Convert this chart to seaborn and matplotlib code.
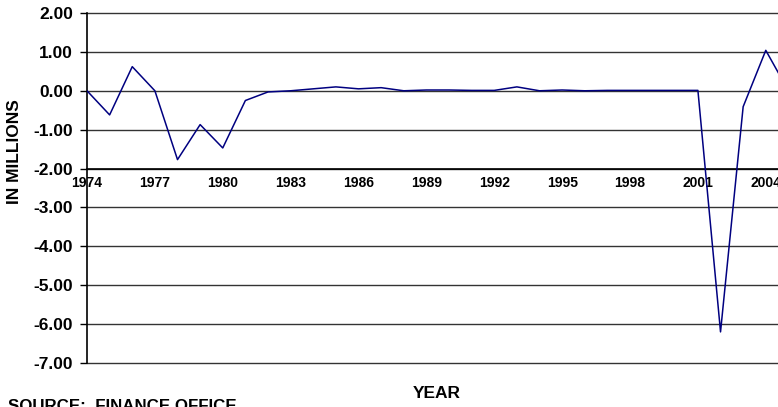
import numpy as np
import matplotlib
matplotlib.use('Agg')
import matplotlib.pyplot as plt
import pandas as pd
import seaborn as sns

# data (in millions)
years = list(range(1974, 2006))
values = [0.00, -0.62, 0.62, 0.00, -1.77, -0.87, -1.47, -0.25, -0.03, 0.00,
          0.05, 0.10, 0.05, 0.08, 0.00, 0.02, 0.02, 0.01, 0.01, 0.10,
          0.00, 0.02, 0.00, 0.01, 0.01, 0.01, 0.01, 0.01, -6.20, -0.41,
          1.04, 0.00]
label_years = [1974, 1977, 1980, 1983, 1986, 1989, 1992, 1995, 1998, 2001, 2004]
y_ticks = [2, 1, 0, -1, -2, -3, -4, -5, -6, -7]

df = pd.DataFrame({'year': years, 'value': values})

sns.set_style("white")
plt.rcParams['font.family'] = ['Liberation Sans', 'DejaVu Sans']
plt.rcParams['font.weight'] = 'bold'
plt.rcParams['text.color'] = 'black'
plt.rcParams['xtick.color'] = 'black'
plt.rcParams['ytick.color'] = 'black'

fig = plt.figure(figsize=(7.78, 4.07), dpi=100)
ax = fig.add_axes([87 / 778, 1 - 363 / 407, 1 - 87 / 778, 350 / 407])

# horizontal grid lines
for t in y_ticks:
    ax.axhline(t, color='#333333', lw=1, zorder=1, clip_on=False)

sns.lineplot(data=df, x='year', y='value', ax=ax, color='#000080', lw=1.1, zorder=3)

ax.set_xlim(1974, 2004.54)
ax.set_ylim(-7, 2)

# x axis crosses at -2
ax.spines['bottom'].set_position(('data', -2))
ax.spines['bottom'].set_color('black')
ax.spines['bottom'].set_linewidth(1.2)
ax.spines['left'].set_color('black')
ax.spines['left'].set_linewidth(1.2)
ax.spines['top'].set_visible(False)
ax.spines['right'].set_visible(False)

ax.set_xticks(years[:-1])
ax.set_xticklabels([str(y) if y in label_years else '' for y in years[:-1]],
                   fontsize=10, fontweight='bold')
ax.tick_params(axis='x', direction='inout', length=9, width=1, color='black', pad=1)
ax.set_yticks(y_ticks)
ax.set_yticklabels(['%.2f' % t for t in y_ticks], fontsize=12.5, fontweight='bold')
ax.tick_params(axis='y', direction='out', length=5, width=1, color='black', pad=5, left=True)

ax.set_xlabel('')
ax.set_ylabel('')

fig.text(15 / 778, 1 - 152 / 407, 'IN MILLIONS', rotation=90, ha='center', va='center',
         fontsize=12.5, fontweight='bold')
fig.text(437 / 778, 1 - 393 / 407, 'YEAR', ha='center', va='center',
         fontsize=12.5, fontweight='bold')
fig.text(8 / 778, 1 - 399 / 407, 'SOURCE:  FINANCE OFFICE', ha='left', va='top',
         fontsize=12.2, fontweight='bold')

fig.savefig('out.png', dpi=100)
